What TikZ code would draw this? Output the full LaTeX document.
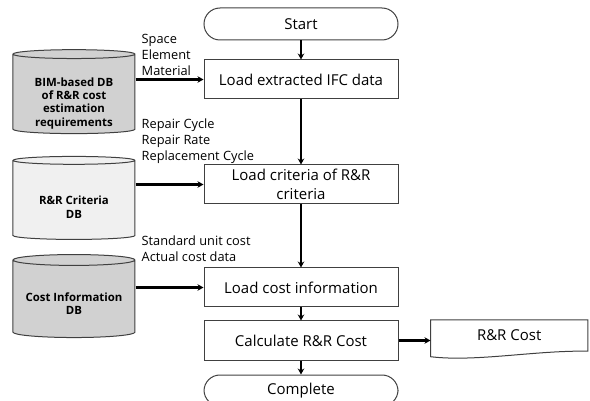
\documentclass[tikz,border=0pt]{standalone}
\usepackage{fontspec}
\setmainfont{Open Sans}
\usetikzlibrary{arrows.meta, positioning, shapes.geometric}

\newcommand{\dbpad}[1]{\rule{0pt}{#1}}

\begin{document}
\begin{tikzpicture}[
    font=\fontsize{15}{19}\selectfont,
    process/.style = {draw=black!75, line width=1pt, align=center,
                      minimum width=194pt, minimum height=39pt, inner sep=2pt},
    term/.style    = {process, rounded corners=16pt, minimum height=32pt},
    dbase/.style   = {cylinder, shape border rotate=90, aspect=0.11, draw=black!75,
                      line width=1pt, align=center, minimum width=122pt,
                      minimum height=83pt, inner sep=1pt,
                      font=\fontsize{11.4}{13.4}\selectfont\bfseries},
    attr/.style    = {align=left, inner sep=0pt, anchor=south west,
                      font=\fontsize{12.8}{16}\selectfont},
    arrow/.style   = {-{Stealth[length=6pt,width=6.5pt]}, line width=2.2pt}
]
\useasboundingbox (0,0) rectangle (590pt,-401pt);

%% ── Flujo principal ─────────────────────────────────────────────────────────
\node[term] (start) at (301pt,-24pt) {Start};
\node[process, below=19pt of start] (ifc) {Load extracted IFC data};
\node[process, below=65pt of ifc] (crit) {Load criteria of R\&R\\criteria};
\node[process, below=63pt of crit] (cost) {Load cost information};
\node[process, below=13pt of cost] (calc) {Calculate R\&R Cost};
\node[term, below=14pt of calc, minimum height=31pt] (done) {Complete};

\draw[arrow] (start) -- (ifc);
\draw[arrow] (ifc) -- (crit);
\draw[arrow] (crit) -- (cost);
\draw[arrow] (cost) -- (calc);
\draw[arrow] (calc) -- (done);

%% ── Bases de datos ──────────────────────────────────────────────────────────
\node[dbase, fill=black!18, left=68pt of ifc, yshift=-15pt, minimum height=77pt] (bim)
    {\dbpad{26pt}BIM-based DB\\of R\&R cost\\estimation\\requirements};
\node[dbase, fill=black!6, left=68pt of crit, yshift=-16pt] (critdb)
    {\dbpad{22pt}R\&R Criteria\\DB};
\node[dbase, fill=black!18, left=68pt of cost, yshift=-12pt] (costdb)
    {\dbpad{17pt}Cost Information\\DB};

\draw[arrow] (bim.east |- ifc.west) -- (ifc.west);
\draw[arrow] (critdb.east |- crit.west) -- (crit.west);
\draw[arrow] (costdb.east |- cost.west) -- (cost.west);

\node[attr] (attrbim) at ([xshift=6pt, yshift=4pt]bim.east |- ifc.west)
    {Space\\Element\\Material};
\node[attr] (attrcrit) at ([xshift=6pt, yshift=1pt]critdb.east |- crit.north)
    {Repair Cycle\\Repair Rate\\Replacement Cycle};
\node[attr] (attrcost) at ([xshift=6pt, yshift=6pt]costdb.east |- cost.north)
    {Standard unit cost\\Actual cost data};

%% ── Salida ──────────────────────────────────────────────────────────────────
\node[right=32pt of calc, yshift=5pt, minimum width=157pt, minimum height=31pt,
      inner sep=0pt] (out) {R\&R Cost};
\draw[draw=black!75, line width=1pt] (out.north west) -- (out.north east) -- (out.south east)
    .. controls +(-52pt,1pt) and +(45pt,-5.5pt) .. ([yshift=-5.5pt]out.south west) -- cycle;
\draw[arrow] (calc.east) -- (calc.east -| out.west);

\end{tikzpicture}
\end{document}
